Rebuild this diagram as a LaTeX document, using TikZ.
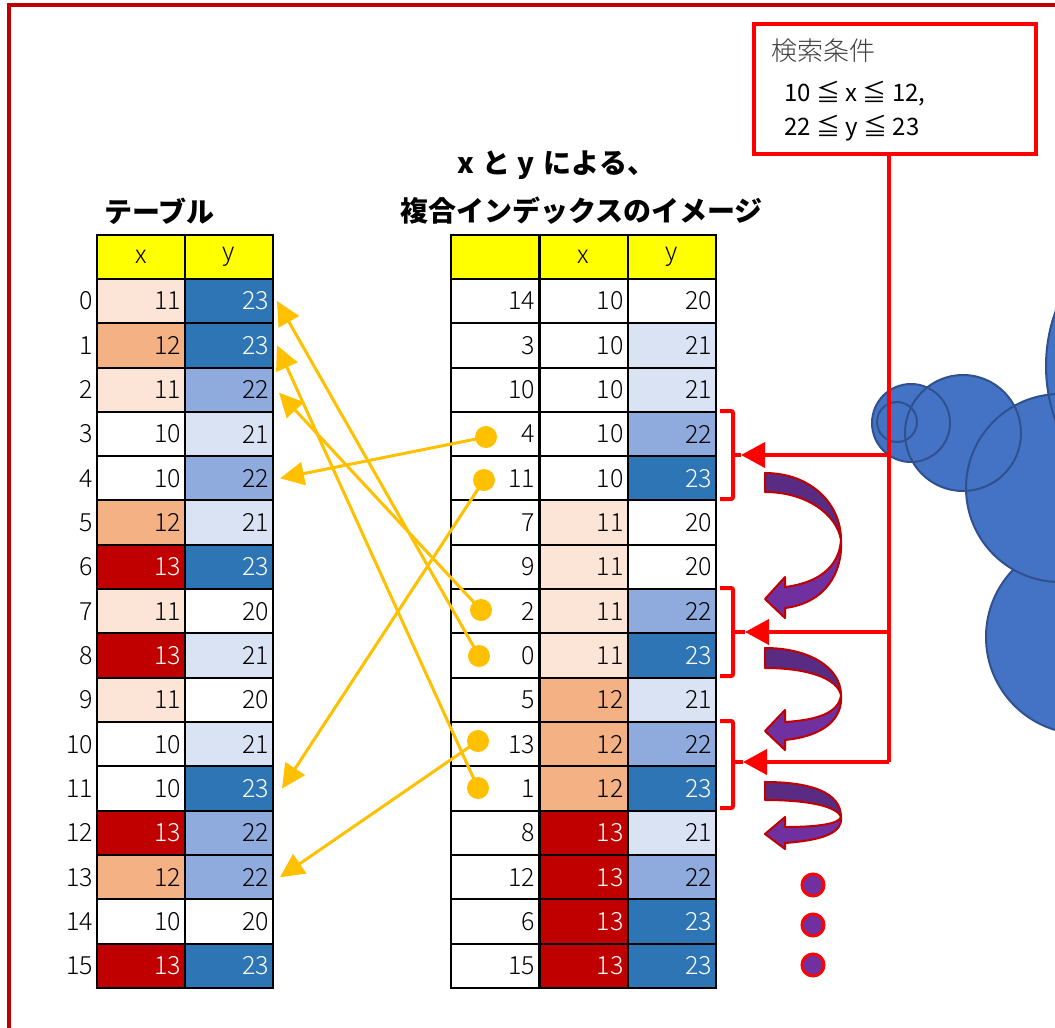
\documentclass[tikz,border=0pt]{standalone}
\usepackage{fontspec}
\setmainfont{Noto Sans CJK JP}
\IfFontExistsTF{Noto Sans CJK JP Light}{\newfontfamily\lightfont{Noto Sans CJK JP Light}}{\newcommand\lightfont{}}
\usetikzlibrary{arrows.meta}
\definecolor{frameRed}{HTML}{C00000}
\definecolor{bRed}{HTML}{FF0000}
\definecolor{c10}{HTML}{FFFFFF}
\definecolor{c11}{HTML}{FCE4D6}
\definecolor{c12}{HTML}{F4B183}
\definecolor{c13}{HTML}{C00000}
\definecolor{c20}{HTML}{FFFFFF}
\definecolor{c21}{HTML}{DAE3F3}
\definecolor{c22}{HTML}{8FAADC}
\definecolor{c23}{HTML}{2E75B6}
\colorlet{t10}{black}
\colorlet{t11}{black}
\colorlet{t12}{black}
\colorlet{t13}{white}
\colorlet{t20}{black}
\colorlet{t21}{black}
\colorlet{t22}{black}
\colorlet{t23}{white}
\definecolor{hdrYellow}{HTML}{FFFF00}
\definecolor{arrYellow}{HTML}{FFC000}
\definecolor{cloudFill}{HTML}{4472C4}
\definecolor{cloudLine}{HTML}{2F528F}
\definecolor{purpDark}{HTML}{5A2B82}
\definecolor{purpLight}{HTML}{7030A0}
\newcommand\tabfont{\lightfont\fontsize{25}{28}\selectfont}
\tikzset{
  cell/.style={draw=black, line width=2pt, minimum height=44.33pt, text width=80pt,
    align=right, inner xsep=4pt, inner ysep=0pt, font=\tabfont},
  hdr/.style={draw=black, line width=2pt, fill=hdrYellow, minimum width=88pt,
    minimum height=44pt, inner sep=0pt, font=\tabfont},
  rowlab/.style={anchor=east, inner sep=0pt, font=\tabfont},
  ydot/.style={circle, fill=arrYellow, minimum size=22pt, inner sep=0pt},
  yarrow/.style={draw=arrYellow, line width=3pt, -{Triangle[length=24pt,width=23pt]}},
  redline/.style={draw=bRed, line width=4pt},
  redarrow/.style={draw=bRed, line width=4pt, -{Triangle[length=24pt,width=25pt]}},
  bracketline/.style={draw=bRed, line width=4pt, rounded corners=2pt},
  pdot/.style={circle, fill=purpLight, draw=bRed, line width=3pt, minimum size=22pt, inner sep=0pt},
  cloudc/.style={fill=cloudFill},
  cloudo/.style={draw=cloudLine, line width=2pt},
  bandDark/.style={fill=purpDark, draw=frameRed, line width=2pt, line join=round},
  bandLight/.style={fill=purpLight, draw=frameRed, line width=2pt, line join=round},
  title/.style={anchor=west, inner sep=0pt, font=\fontsize{28}{30}\selectfont\bfseries},
}
\begin{document}
\begin{tikzpicture}[x=1pt,y=-1pt]
\useasboundingbox (0,0) rectangle (1055,1028);
\clip (0,0) rectangle (1055,1028);
\fill[white] (0,0) rectangle (1055,1028);
% frame
\draw[frameRed, line width=3.5pt] (9,5) rectangle (1090,1060);

% cloud
\fill[cloudc] (1083,637) circle[radius=97];
\draw[cloudo] (1083,637) circle[radius=97];
\fill[cloudc] (1060,488) circle[radius=94];
\fill[cloudc] (1206,366) circle[radius=160];
\fill[cloudc] (963,433) circle[radius=58];
\fill[cloudc] (911,423) circle[radius=39];
\draw[cloudo] (1060,488) circle[radius=94];
\draw[cloudo] (1206,366) circle[radius=160];
\draw[cloudo] (963,433) circle[radius=58];
\draw[cloudo] (911,423) circle[radius=39];
\draw[cloudo] (897,422) circle[radius=20];

% titles
\node[title] (t1) at (104,211) {テーブル};
\node[title] (t2) at (457,165) {x\hspace{9pt}と\hspace{7pt}y\hspace{9pt}による、};
\node[title] (t3) at (400,211) {複合インデックスのイメージ};

% headers
\node[hdr] (LHx) at (141,257) {x};
\node[hdr] (LHy) at (229,257) {y};
\node[hdr] (MHi) at (495,257) {};
\node[hdr] (MHx) at (583.5,257) {x};
\node[hdr] (MHy) at (672,257) {y};

% left table
\foreach \i/\a/\b in {0/11/23,1/12/23,2/11/22,3/10/21,4/10/22,5/12/21,6/13/23,7/11/20,
  8/13/21,9/11/20,10/10/21,11/10/23,12/13/22,13/12/22,14/10/20,15/13/23}{
  \node[cell, fill=c\a, text=t\a] (Lx\i) at (141,{301+44.33*\i}) {\a};
  \node[cell, fill=c\b, text=t\b] (Ly\i) at (229,{301+44.33*\i}) {\b};
  \node[rowlab] (Ln\i) at (93,{301+44.33*\i}) {\i};
}
% middle table
\foreach \i/\k/\a/\b in {0/14/10/20,1/3/10/21,2/10/10/21,3/4/10/22,4/11/10/23,5/7/11/20,
  6/9/11/20,7/2/11/22,8/0/11/23,9/5/12/21,10/13/12/22,11/1/12/23,12/8/13/21,13/12/13/22,
  14/6/13/23,15/15/13/23}{
  \node[cell, fill=white] (Mi\i) at (495,{301+44.33*\i}) {\k};
  \node[cell, fill=c\a, text=t\a] (Mx\i) at (583.5,{301+44.33*\i}) {\a};
  \node[cell, fill=c\b, text=t\b] (My\i) at (672,{301+44.33*\i}) {\b};
}

% yellow dots and arrows
\node[ydot] (D3) at (486,437) {};
\node[ydot] (D4) at (484,480) {};
\node[ydot] (D7) at (481,610) {};
\node[ydot] (D8) at (479,656) {};
\node[ydot] (D10) at (478,741) {};
\node[ydot] (D11) at (478,788) {};
\draw[yarrow] (D3.center) -- ([xshift=6pt]Ly4.east);
\draw[yarrow] (D4.center) -- ([xshift=8pt]Ly11.east);
\draw[yarrow] (D7.center) -- ([xshift=5pt,yshift=-3pt]Ly2.east);
\draw[yarrow] (D8.center) -- ([xshift=3pt]Ly0.east);
\draw[yarrow] (D10.center) -- ([xshift=6pt]Ly13.east);
\draw[yarrow] (D11.center) -- ([xshift=3pt]Ly1.east);

% search box
\node[draw=bRed, line width=4pt, minimum width=282pt, minimum height=130pt, inner sep=0pt] (box) at (895,89) {};
\node[anchor=west, inner sep=0pt, text=black!75, font=\lightfont\fontsize{26}{28}\selectfont] (bt1) at (771,51) {検索条件};
\node[anchor=west, inner sep=0pt, font=\fontsize{24}{26}\selectfont] (bt2) at (784,94) {10 ≦ x ≦ 12,};
\node[anchor=west, inner sep=0pt, font=\fontsize{24}{26}\selectfont] (bt3) at (784,128) {22 ≦ y ≦ 23};

% red connectors
\coordinate (J1) at (889,455);
\coordinate (J2) at (889,632);
\coordinate (J3) at (889,762);
\coordinate (A1) at (741,455);
\coordinate (A2) at (745,632);
\coordinate (A3) at (743,762);
\draw[redline] (box.south -| J1) -- (J3);
\draw[redarrow] (J1) -- (A1);
\draw[redarrow] (J2) -- (A2);
\draw[redarrow] (J3) -- (A3);
\draw[bracketline] (720,411) -- (733,411) -- (733,499) -- (720,499);
\draw[redline] (733,455) -- (A1);
\draw[bracketline] (720,588) -- (733,588) -- (733,676) -- (720,676);
\draw[redline] (733,632) -- (A2);
\draw[bracketline] (720,721) -- (733,721) -- (733,808) -- (720,808);
\draw[redline] (733,762) -- (A3);

% curved purple arrows
\begin{scope}[shift={(765,473)}]
\draw[bandDark] (0,0) .. controls (45,0) and (76,30) .. (76,67) .. controls (72,42) and (42,19) .. (0,19) -- cycle;
\draw[bandLight] (76,67) .. controls (74,95) and (52,110) .. (20,114) -- (20,104) -- (0,126) -- (20,145) -- (20,135) .. controls (60,130) and (78,100) .. (76,67) -- cycle;
\end{scope}
\begin{scope}[shift={(765,648)}]
\draw[bandDark] (0,0) .. controls (45,0) and (76,20) .. (76,47) .. controls (72,30) and (42,20) .. (0,20) -- cycle;
\draw[bandLight] (76,47) .. controls (74,65) and (52,72) .. (20,74) -- (20,62) -- (0,83) -- (20,102) -- (20,92) .. controls (60,88) and (78,70) .. (76,47) -- cycle;
\end{scope}
\begin{scope}[shift={(765,782)}]
\draw[bandDark] (0,0) .. controls (45,0) and (76,10) .. (76,35) .. controls (72,24) and (42,18) .. (0,18) -- cycle;
\draw[bandLight] (76,35) .. controls (74,42) and (52,45) .. (20,45) -- (20,35) -- (0,52) -- (20,67) -- (20,61) .. controls (60,58) and (78,50) .. (76,35) -- cycle;
\end{scope}

% purple dots
\node[pdot] (P1) at (813,885) {};
\node[pdot] (P2) at (813,925) {};
\node[pdot] (P3) at (813,965) {};
\end{tikzpicture}
\end{document}
